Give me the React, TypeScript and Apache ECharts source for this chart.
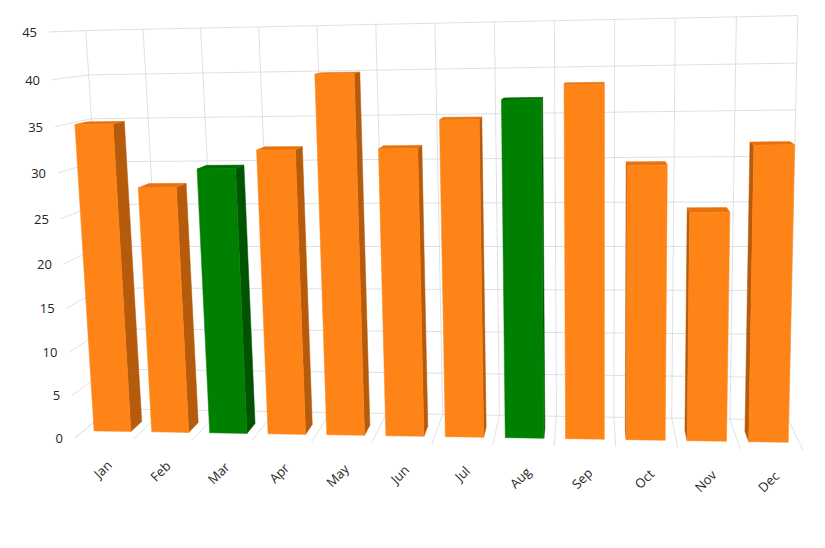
import React, { useEffect, useRef } from "react";
import * as echarts from "echarts";

// ---------- data ----------
const MONTHS = ["Jan", "Feb", "Mar", "Apr", "May", "Jun", "Jul", "Aug", "Sep", "Oct", "Nov", "Dec"];
const SALES = [35, 28, 30, 32, 40, 32, 35, 37, 38.5, 30, 25, 32];
const HIGHLIGHTED = ["Mar", "Aug"];
const Y_TICKS = [0, 5, 10, 15, 20, 25, 30, 35, 40, 45];
const Y_MIN = 0;
const Y_MAX = 45;
const Y_STEP = 5;

// ---------- view (3D projection) & style ----------
const VIEW = {
  vanishing: [590, 10],
  backScale: 0.932,
  frontBL: [75, 438],
  frontBR: [803, 450],
  frontTL: [49, 32],
  frontTR: [813, 16],
  warpU: 0.962,
  warpV: 0.94,
  barFront: 0.25,
  barBack: 0.59,
  barWidth: 0.64,
};
const ORANGE = { front: "#FF8418", top: "#E8720E", side: "#B65B0B" };
const GREEN = { front: "#008000", top: "#006C00", side: "#005300" };
const GRID_COLOR = "#DEE0E4";
const LABEL_COLOR = "#262626";
const FONT_FAMILY = '"Segoe UI", "Open Sans", "Noto Sans", sans-serif';
const FONT_SIZE = 13;

function warp(t: number, a: number) {
  return (a * t) / (1 + (a - 1) * t);
}

function project(u: number, v: number, w: number): number[] {
  const uu = warp(u, VIEW.warpU);
  const vv = warp(v, VIEW.warpV);
  const bl = VIEW.frontBL, br = VIEW.frontBR, tl = VIEW.frontTL, tr = VIEW.frontTR;
  const vp = VIEW.vanishing;
  const bx = bl[0] + (br[0] - bl[0]) * uu;
  const by = bl[1] + (br[1] - bl[1]) * uu;
  const tx = tl[0] + (tr[0] - tl[0]) * uu;
  const ty = tl[1] + (tr[1] - tl[1]) * uu;
  const fx = bx + (tx - bx) * vv;
  const fy = by + (ty - by) * vv;
  const r = 1 - (1 - VIEW.backScale) * w;
  return [vp[0] + (fx - vp[0]) * r, vp[1] + (fy - vp[1]) * r];
}

function poly(points: number[][], fill: string) {
  return {
    type: "polygon",
    shape: { points },
    style: { fill, stroke: fill, lineWidth: 0.5 },
    silent: true,
  };
}

export default function App() {
  const ref = useRef<HTMLDivElement>(null);

  useEffect(() => {
    if (!ref.current) return;
    const chart = echarts.init(ref.current, undefined, { renderer: "svg" });

    const frameRender = (params: any, api: any) => {
      const rect = params.coordSys;
      const band = api.size([1, 0])[0];
      const uOf = (x: number) => (x - rect.x) / rect.width;
      const vOf = (y: number) => (rect.y + rect.height - y) / rect.height;
      const line = (a: number[], b: number[]) => ({
        type: "line",
        shape: { x1: a[0], y1: a[1], x2: b[0], y2: b[1] },
        style: { stroke: GRID_COLOR, lineWidth: 1 },
        silent: true,
      });
      const children: any[] = [];
      const vTop = vOf(api.coord([0, Y_MAX])[1]);
      const vBottom = vOf(api.coord([0, Y_MIN])[1]);
      for (let k = 0; k <= MONTHS.length; k++) {
        const idx = Math.min(k, MONTHS.length - 1);
        const c = api.coord([idx, Y_MIN]);
        const x = k < MONTHS.length ? c[0] - band / 2 : c[0] + band / 2;
        const u = uOf(x);
        children.push(line(project(u, vBottom, 1), project(u, vTop, 1)));
        children.push(line(project(u, vBottom, 0), project(u, vBottom, 1)));
      }
      Y_TICKS.forEach((t) => {
        const v = vOf(api.coord([0, t])[1]);
        children.push(line(project(0, v, 1), project(1, v, 1)));
        children.push(line(project(0, v, 0), project(0, v, 1)));
        const p = project(0, v, 0);
        children.push({
          type: "text",
          x: p[0] - 12,
          y: p[1],
          silent: true,
          style: {
            text: String(t),
            fill: LABEL_COLOR,
            fontSize: FONT_SIZE,
            fontFamily: FONT_FAMILY,
            align: "right",
            verticalAlign: "middle",
          },
        });
      });
      MONTHS.forEach((m, i) => {
        const c = api.coord([i, Y_MIN]);
        const p = project(uOf(c[0]), vBottom, 0);
        children.push({
          type: "text",
          x: p[0] + 5,
          y: p[1] + 24,
          rotation: Math.PI / 4,
          silent: true,
          style: {
            text: m,
            fill: LABEL_COLOR,
            fontSize: FONT_SIZE,
            fontFamily: FONT_FAMILY,
            align: "right",
            verticalAlign: "middle",
          },
        });
      });
      return { type: "group", children };
    };

    const barRender = (params: any, api: any) => {
      const rect = params.coordSys;
      const i = api.value(0);
      const val = api.value(1);
      const band = api.size([1, 0])[0];
      const base = api.coord([i, Y_MIN]);
      const top = api.coord([i, val]);
      const uOf = (x: number) => (x - rect.x) / rect.width;
      const vOf = (y: number) => (rect.y + rect.height - y) / rect.height;
      const u0 = uOf(base[0] - (band * VIEW.barWidth) / 2);
      const u1 = uOf(base[0] + (band * VIEW.barWidth) / 2);
      const v0 = vOf(base[1]);
      const v1 = vOf(top[1]);
      const wf = VIEW.barFront;
      const wb = VIEW.barBack;
      const pal = HIGHLIGHTED.indexOf(MONTHS[i]) >= 0 ? GREEN : ORANGE;
      const children: any[] = [];
      const rf = project(u1, v1, wf), rb = project(u1, v1, wb);
      const lf = project(u0, v1, wf), lb = project(u0, v1, wb);
      if (rb[0] > rf[0] + 0.2) {
        children.push(
          poly([project(u1, v0, wf), project(u1, v0, wb), rb, rf], pal.side)
        );
      }
      if (lb[0] < lf[0] - 0.2) {
        children.push(
          poly([project(u0, v0, wf), project(u0, v0, wb), lb, lf], pal.side)
        );
      }
      children.push(poly([lf, rf, rb, lb], pal.top));
      children.push(
        poly([project(u0, v0, wf), project(u1, v0, wf), rf, lf], pal.front)
      );
      return { type: "group", children };
    };

    chart.setOption({
      animation: false,
      grid: { left: 100, right: 60, top: 40, bottom: 100 },
      xAxis: { type: "category", data: MONTHS, show: false },
      yAxis: { type: "value", min: Y_MIN, max: Y_MAX, interval: Y_STEP, show: false },
      series: [
        {
          type: "custom",
          name: "frame",
          data: [[0, 0]],
          renderItem: frameRender,
          clip: false,
          silent: true,
          z: 1,
        },
        {
          type: "custom",
          name: "Sales",
          data: SALES.map((v, i) => [i, v]),
          renderItem: barRender,
          clip: false,
          silent: true,
          z: 2,
        },
      ],
    });

    return () => chart.dispose();
  }, []);

  return (
    <div
      ref={ref}
      style={{ position: "absolute", left: 0, top: 0, width: 825, height: 548 }}
    />
  );
}
